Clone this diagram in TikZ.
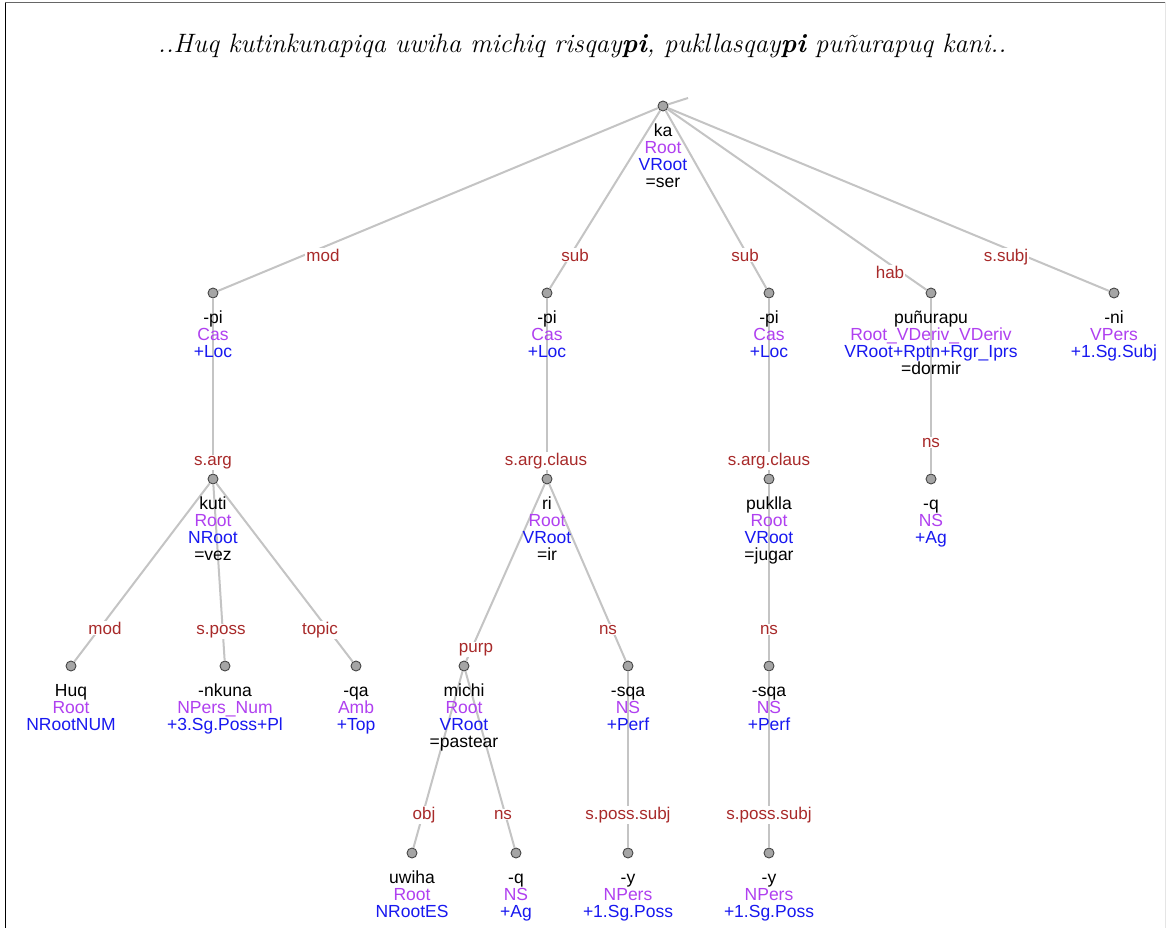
\documentclass[tikz,border=0pt]{standalone}
\usepackage{fontspec}
\newfontfamily\arialfont{Liberation Sans}
\definecolor{labred}{RGB}{168,42,42}
\definecolor{purp}{RGB}{176,64,240}
\definecolor{blu}{RGB}{24,24,240}
\definecolor{edgegray}{RGB}{196,196,196}
\definecolor{dotfill}{RGB}{165,165,165}
\definecolor{dotline}{RGB}{70,70,70}
\newcommand{\pu}[1]{\textcolor{purp}{#1}}
\newcommand{\bl}[1]{\textcolor{blu}{#1}}
\tikzset{
  dot/.style={circle, draw=dotline, fill=dotfill, minimum size=10pt, inner sep=0pt, line width=0.9pt},
  edge/.style={draw=edgegray, line width=2pt},
  lab/.style={fill=white, text=labred, inner sep=1pt, anchor=mid, yshift=-4pt, font=\arialfont\fontsize{17}{17}\selectfont},
  words/.style={align=center, inner sep=0pt, anchor=north, font=\arialfont\fontsize{17.5}{17}\selectfont},
}
\newcommand{\treedot}[3]{\node[dot] (#1) at (#2,#3) {};}
\newcommand{\nodetext}[2]{\node[words] (#1-t) at ([yshift=-17pt]#1.center) {\rule{0pt}{13pt}#2};}
\begin{document}
\begin{tikzpicture}[x=1pt,y=-1pt]
\useasboundingbox (0,0) rectangle (1166,928);
\fill[white] (0,0) rectangle (1166,928);
\draw[black, line width=1.5pt] (5.5,2) -- (5.5,928);
\draw[gray!80!black, line width=1.5pt] (5,2.5) -- (1166,2.5);
\draw[black!10, line width=1pt] (1165.5,2) -- (1165.5,928);
\node (title) at (582,46) {\fontsize{26.6}{30}\selectfont\itshape ..Huq kutinkunapiqa uwiha michiq risqay\textbf{pi}, pukllasqay\textbf{pi} puñurapuq kani..};

\treedot{ka}{663}{106}
\treedot{pia}{213}{293}
\treedot{pib}{547}{293}
\treedot{pic}{769}{293}
\treedot{pun}{931}{293}
\treedot{ni}{1114}{293}
\treedot{kuti}{213}{479}
\treedot{ri}{547}{479}
\treedot{puk}{769}{479}
\treedot{qa1}{931}{479}
\treedot{huq}{71}{666}
\treedot{nk}{225}{666}
\treedot{qa}{356}{666}
\treedot{michi}{464}{666}
\treedot{sqaa}{628}{666}
\treedot{sqab}{769}{666}
\treedot{uwiha}{412}{853}
\treedot{qb}{516}{853}
\treedot{ya}{628}{853}
\treedot{yb}{769}{853}
\coordinate (stub) at (688,98);

\draw[edge] (ka) -- (stub);
\draw[edge] (ka) -- (pia);
\draw[edge] (ka) -- (pib);
\draw[edge] (ka) -- (pic);
\draw[edge] (ka) -- (pun);
\draw[edge] (ka) -- (ni);
\draw[edge] (pia) -- (kuti);
\draw[edge] (pib) -- (ri);
\draw[edge] (pic) -- (puk);
\draw[edge] (pun) -- (qa1);
\draw[edge] (kuti) -- (huq);
\draw[edge] (kuti) -- (nk);
\draw[edge] (kuti) -- (qa);
\draw[edge] (ri) -- (michi);
\draw[edge] (ri) -- (sqaa);
\draw[edge] (puk) -- (sqab);
\draw[edge] (michi) -- (uwiha);
\draw[edge] (michi) -- (qb);
\draw[edge] (sqaa) -- (ya);
\draw[edge] (sqab) -- (yb);

\nodetext{ka}{ka\\\pu{Root}\\\bl{VRoot}\\=ser}
\nodetext{pia}{-pi\\\pu{Cas}\\\bl{+Loc}}
\nodetext{pib}{-pi\\\pu{Cas}\\\bl{+Loc}}
\nodetext{pic}{-pi\\\pu{Cas}\\\bl{+Loc}}
\nodetext{pun}{puñurapu\\\pu{Root\_VDeriv\_VDeriv}\\\bl{VRoot+Rptn+Rgr\_Iprs}\\=dormir}
\nodetext{ni}{-ni\\\pu{VPers}\\\bl{+1.Sg.Subj}}
\nodetext{kuti}{kuti\\\pu{Root}\\\bl{NRoot}\\=vez}
\nodetext{ri}{ri\\\pu{Root}\\\bl{VRoot}\\=ir}
\nodetext{puk}{puklla\\\pu{Root}\\\bl{VRoot}\\=jugar}
\nodetext{qa1}{-q\\\pu{NS}\\\bl{+Ag}}
\nodetext{huq}{Huq\\\pu{Root}\\\bl{NRootNUM}}
\nodetext{nk}{-nkuna\\\pu{NPers\_Num}\\\bl{+3.Sg.Poss+Pl}}
\nodetext{qa}{-qa\\\pu{Amb}\\\bl{+Top}}
\nodetext{michi}{michi\\\pu{Root}\\\bl{VRoot}\\=pastear}
\nodetext{sqaa}{-sqa\\\pu{NS}\\\bl{+Perf}}
\nodetext{sqab}{-sqa\\\pu{NS}\\\bl{+Perf}}
\nodetext{uwiha}{uwiha\\\pu{Root}\\\bl{NRootES}}
\nodetext{qb}{-q\\\pu{NS}\\\bl{+Ag}}
\nodetext{ya}{-y\\\pu{NPers}\\\bl{+1.Sg.Poss}}
\nodetext{yb}{-y\\\pu{NPers}\\\bl{+1.Sg.Poss}}

\node[lab] (l1) at (323,255) {mod};
\node[lab] (l2) at (575,255) {sub};
\node[lab] (l3) at (745,255) {sub};
\node[lab] (l4) at (890,272) {hab};
\node[lab] (l5) at (1006,255) {s.subj};
\node[lab] (l6) at (213,459) {s.arg};
\node[lab] (l7) at (546,459) {s.arg.claus};
\node[lab] (l8) at (769,459) {s.arg.claus};
\node[lab] (l9) at (931,441) {ns};
\node[lab] (l10) at (105,628) {mod};
\node[lab] (l11) at (221,628) {s.poss};
\node[lab] (l12) at (320,628) {topic};
\node[lab] (l13) at (476,646) {purp};
\node[lab] (l14) at (608,628) {ns};
\node[lab] (l15) at (769,628) {ns};
\node[lab] (l16) at (424,813) {obj};
\node[lab] (l17) at (503,813) {ns};
\node[lab] (l18) at (628,813) {s.poss.subj};
\node[lab] (l19) at (769,813) {s.poss.subj};
\end{tikzpicture}
\end{document}
